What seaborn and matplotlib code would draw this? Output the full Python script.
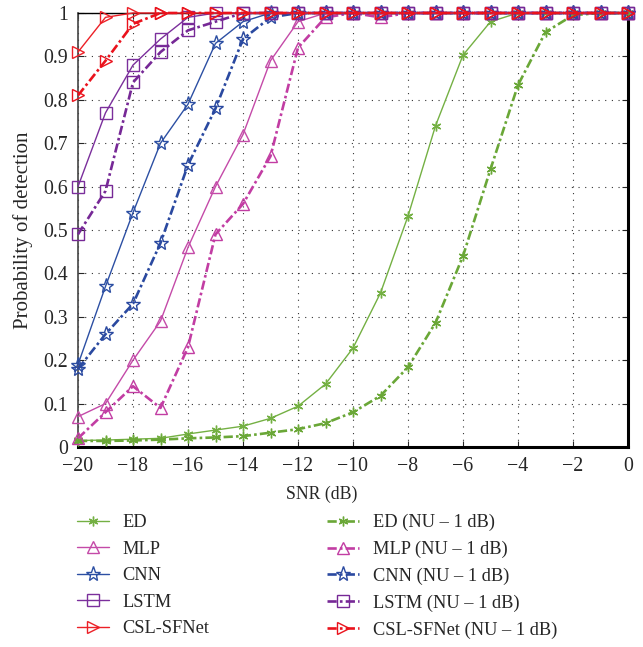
import numpy as np
import pandas as pd
import matplotlib
matplotlib.use("Agg")
import matplotlib.pyplot as plt
import seaborn as sns

snr = list(range(-20, 1))

ed = [0.015, 0.016, 0.018, 0.020, 0.030, 0.039, 0.048, 0.066, 0.094, 0.145, 0.228,
      0.355, 0.532, 0.740, 0.903, 0.980, 1.0, 1.0, 1.0, 1.0, 1.0]
ed_nu = [0.014, 0.014, 0.015, 0.017, 0.020, 0.022, 0.025, 0.033, 0.041, 0.055, 0.080,
         0.118, 0.184, 0.286, 0.440, 0.640, 0.834, 0.956, 0.995, 1.0, 1.0]
mlp = [0.07, 0.10, 0.20, 0.29, 0.46, 0.60, 0.72, 0.89, 0.98, 1.0, 1.0,
       1.0, 1.0, 1.0, 1.0, 1.0, 1.0, 1.0, 1.0, 1.0, 1.0]
mlp_nu = [0.02, 0.08, 0.14, 0.09, 0.23, 0.49, 0.56, 0.67, 0.92, 0.99, 1.0,
          0.99, 1.0, 1.0, 1.0, 1.0, 1.0, 1.0, 1.0, 1.0, 1.0]
cnn = [0.19, 0.37, 0.54, 0.70, 0.79, 0.93, 0.98, 1.0, 1.0, 1.0, 1.0,
       1.0, 1.0, 1.0, 1.0, 1.0, 1.0, 1.0, 1.0, 1.0, 1.0]
cnn_nu = [0.18, 0.26, 0.33, 0.47, 0.65, 0.78, 0.94, 0.99, 1.0, 1.0, 1.0,
          1.0, 1.0, 1.0, 1.0, 1.0, 1.0, 1.0, 1.0, 1.0, 1.0]
lstm = [0.60, 0.77, 0.88, 0.94, 0.99, 1.0, 1.0, 1.0, 1.0, 1.0, 1.0,
        1.0, 1.0, 1.0, 1.0, 1.0, 1.0, 1.0, 1.0, 1.0, 1.0]
lstm_nu = [0.49, 0.59, 0.84, 0.91, 0.96, 0.98, 1.0, 1.0, 1.0, 1.0, 1.0,
           1.0, 1.0, 1.0, 1.0, 1.0, 1.0, 1.0, 1.0, 1.0, 1.0]
csl = [0.91, 0.99, 1.0, 1.0, 1.0, 1.0, 1.0, 1.0, 1.0, 1.0, 1.0,
       1.0, 1.0, 1.0, 1.0, 1.0, 1.0, 1.0, 1.0, 1.0, 1.0]
csl_nu = [0.81, 0.89, 0.975, 1.0, 1.0, 1.0, 1.0, 1.0, 1.0, 1.0, 1.0,
          1.0, 1.0, 1.0, 1.0, 1.0, 1.0, 1.0, 1.0, 1.0, 1.0]

names = ["ED", "MLP", "CNN", "LSTM", "CSL-SFNet"]
solid_vals = [ed, mlp, cnn, lstm, csl]
nu_vals = [ed_nu, mlp_nu, cnn_nu, lstm_nu, csl_nu]
colors = ["#74b043", "#c44aa8", "#2c4fa3", "#7b2f9c", "#ec2027"]
colors_nu = ["#6aa737", "#c23da3", "#2a49a0", "#762896", "#ea121c"]
markers = [(6, 2, 0), "^", "*", "s", ">"]
msizes = [7, 9, 11, 8, 9]

sns.set_style("white")
plt.rcParams["font.family"] = ["Liberation Serif", "DejaVu Serif"]

W, H = 643, 647
fig = plt.figure(figsize=(W / 100, H / 100), dpi=100)
# axes box: x 78..628 px, y 13..447 px
ax = fig.add_axes([78 / W, 1 - 447 / H, 550 / W, 434 / H])

dashdot = (0, (3.5, 1.2, 1.0, 1.2))

handles_solid, handles_nu = [], []
for i, name in enumerate(names):
    for vals, col, ls, lw, store, label in (
        (solid_vals[i], colors[i], "-", 1.0, handles_solid, name),
        (nu_vals[i], colors_nu[i], dashdot, 1.9, handles_nu, f"{name} (NU \u2013 1 dB)"),
    ):
        df = pd.DataFrame({"snr": snr, "pd": vals})
        sns.lineplot(data=df, x="snr", y="pd", ax=ax, color=col, linestyle=ls,
                     linewidth=lw, marker=markers[i], markersize=msizes[i],
                     markerfacecolor="none", markeredgecolor=col,
                     markeredgewidth=1.0, label=label, clip_on=False, zorder=3)
        store.append(ax.get_lines()[-1])

ax.set_xlim(-20, 0)
ax.set_ylim(0, 1)
ax.set_xticks(range(-20, 1, 2))
ax.set_xticklabels(["\u2212" + str(abs(v)) if v < 0 else str(v) for v in range(-20, 1, 2)])
yt = [round(0.1 * k, 1) for k in range(11)]
ax.set_yticks(yt)
ax.set_yticklabels(["0" if v == 0 else ("1" if v == 1 else f"{v:g}") for v in yt])
ax.tick_params(direction="in", labelsize=14.3, length=4, width=0.8,
               top=True, right=True, bottom=True, left=True)
ax.tick_params(axis="x", pad=7.5)
ax.tick_params(axis="y", pad=7)
ax.grid(True, linestyle=(0, (1, 5)), color="black", linewidth=0.8, alpha=0.8)
for side in ("left", "bottom", "right", "top"):
    ax.spines[side].set_color("black")
ax.spines["bottom"].set_linewidth(2.2)
ax.spines["right"].set_linewidth(2.2)
ax.spines["left"].set_linewidth(1.2)
ax.spines["left"].set_color("#444444")
ax.spines["top"].set_linewidth(1.0)

ax.set_xlabel("SNR (dB)", fontsize=12.8)
ax.xaxis.set_label_coords((322 - 78) / 550, -(486 - 447) / 434)
ax.xaxis.label.set_va("top")
ax.set_ylabel("Probability of detection", fontsize=15)
ax.yaxis.set_label_coords(-(78 - 33) / 550, 0.5)

if ax.get_legend() is not None:
    ax.get_legend().remove()
fig.legend(handles_solid + handles_nu,
           [h.get_label() for h in handles_solid + handles_nu],
           ncol=2, loc="upper left", bbox_to_anchor=(0.108, 0.217),
           frameon=False, fontsize=13.2, handlelength=1.75, handletextpad=0.75,
           columnspacing=6.4, labelspacing=0.52, borderaxespad=0)

fig.savefig("out.png", dpi=100)
